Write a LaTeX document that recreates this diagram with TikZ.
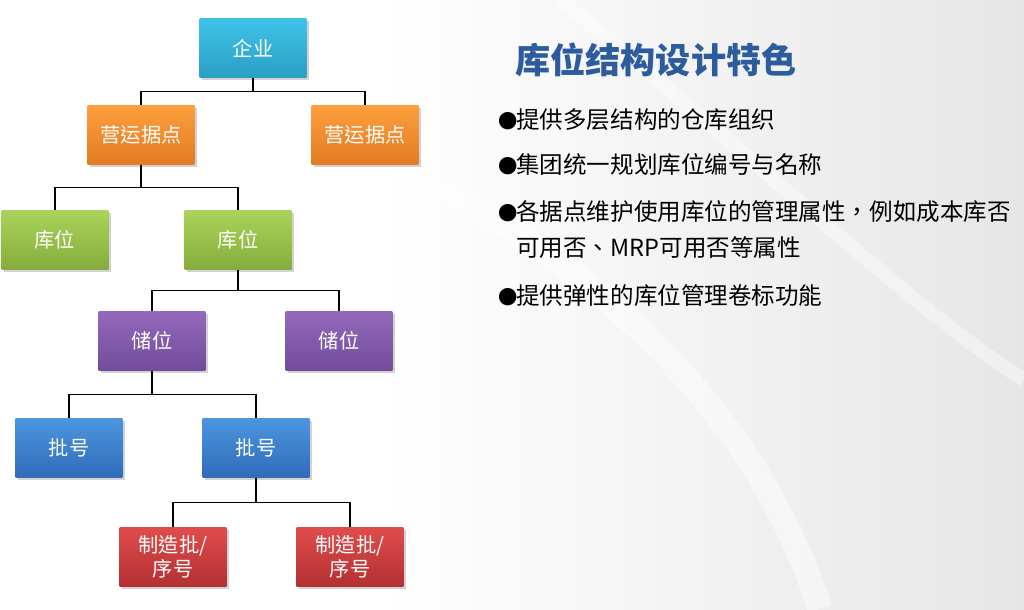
\documentclass[tikz,border=0pt]{standalone}
\usepackage{fontspec}
\usepackage{tikz}
\usetikzlibrary{calc, shadows}
\newfontfamily\cjk{Noto Sans CJK TC}
\definecolor{entTop}{HTML}{3EC3E8}
\definecolor{entBot}{HTML}{2C9FC4}
\definecolor{siteTop}{HTML}{FD9F3C}
\definecolor{siteBot}{HTML}{E27B22}
\definecolor{locTop}{HTML}{A9D35A}
\definecolor{locBot}{HTML}{86AD3C}
\definecolor{binTop}{HTML}{9468BA}
\definecolor{binBot}{HTML}{714C9C}
\definecolor{lotTop}{HTML}{4C95DE}
\definecolor{lotBot}{HTML}{2F6CBB}
\definecolor{serTop}{HTML}{E04C4C}
\definecolor{serBot}{HTML}{B33032}
\definecolor{titleBlue}{HTML}{2D5C9E}
\definecolor{bgGray}{HTML}{E6E6E6}
\newcommand{\dotmark}{\makebox[0.36cm][l]{\fontsize{11}{16}\selectfont ●}}

\begin{document}
\begin{tikzpicture}[x=0.02cm, y=-0.02cm,
    box/.style={minimum width=2.14cm, minimum height=1.17cm, inner sep=0pt,
      text=white, align=center, font=\cjk\fontsize{11.5}{14}\selectfont,
      drop shadow={opacity=.35, shadow xshift=1.2pt, shadow yshift=-1.5pt}},
    entbox/.style={box, top color=entTop, bottom color=entBot},
    sitebox/.style={box, top color=siteTop, bottom color=siteBot},
    locbox/.style={box, top color=locTop, bottom color=locBot},
    binbox/.style={box, top color=binTop, bottom color=binBot},
    lotbox/.style={box, top color=lotTop, bottom color=lotBot},
    serbox/.style={box, top color=serTop, bottom color=serBot},
    link/.style={line width=1.1pt, black},
    point/.style={anchor=west, inner sep=0pt, font=\cjk\fontsize{13.4}{16}\selectfont}]
    \useasboundingbox (0,0) rectangle (1024,609);

    % Background
    \fill[white] (0,0) rectangle (1024,609);
    \shade[left color=white, right color=bgGray] (380,0) rectangle (1024,609);
    \draw[white, line width=14pt, opacity=.45] (400,170) .. controls (600,260) and (760,420) .. (820,609);
    \draw[white, line width=8pt, opacity=.4] (560,0) .. controls (760,160) and (900,300) .. (1024,380);

    % Tree boxes
    \node[entbox] (ent) at (253,48) {企业};
    \node[sitebox] (site1) at (141,135) {营运据点};
    \node[sitebox] (site2) at (365,135) {营运据点};
    \node[locbox] (loc1) at (55,240) {库位};
    \node[locbox] (loc2) at (238,240) {库位};
    \node[binbox] (bin1) at (152,341) {储位};
    \node[binbox] (bin2) at (339,341) {储位};
    \node[lotbox] (lot1) at (69,448) {批号};
    \node[lotbox] (lot2) at (256,448) {批号};
    \node[serbox] (ser1) at (173,557) {制造批/\\序号};
    \node[serbox] (ser2) at (350,557) {制造批/\\序号};

    % Elbow connectors
    \foreach \p/\c in {ent/site1, ent/site2, site1/loc1, site1/loc2,
                       loc2/bin1, loc2/bin2, bin1/lot1, bin1/lot2,
                       lot2/ser1, lot2/ser2}
      \draw[link] (\p.south) |- ($(\p.south)!.5!(\c.north)$) -| (\c.north);

    % Title & points
    \node[anchor=west, inner sep=0pt, text=titleBlue,
          font=\cjk\bfseries\fontsize{20}{24}\selectfont] (title) at (515,60) {库位结构设计特色};
    \node[point] (pt1) at (498,120) {\dotmark 提供多层结构的仓库组织};
    \node[point] (pt2) at (498,165) {\dotmark 集团统一规划库位编号与名称};
    \node[point] (pt3) at (498,212) {\dotmark 各据点维护使用库位的管理属性，例如成本库否};
    \node[point] (pt3b) at (516,248) {可用否、MRP可用否等属性};
    \node[point] (pt4) at (498,296) {\dotmark 提供弹性的库位管理卷标功能};
\end{tikzpicture}
\end{document}
